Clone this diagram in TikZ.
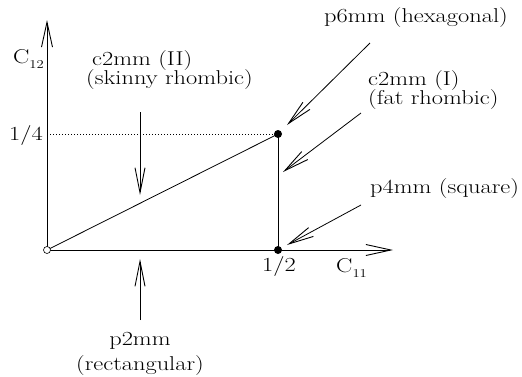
\documentclass[tikz,border=0pt]{standalone}
\usepackage{fontspec}
\setmainfont{Latin Modern Roman}[FakeStretch=1.22]
\usetikzlibrary{arrows.meta}
\newcommand{\subidx}[1]{\raisebox{-5pt}{\fontsize{12}{12}\selectfont #1}}
\newcommand{\lblfont}{\fontsize{20}{19.5}\selectfont\lineskiplimit=-30pt\relax\lineskip=0pt\relax}
\begin{document}
\begin{tikzpicture}[x=1pt,y=-1pt,
  lbl/.style={font=\lblfont, inner sep=0pt},
  axisline/.style={line width=0.9pt, -{Straight Barb[length=25pt,width=11pt,line width=0.9pt]}},
  pointer/.style={line width=0.8pt, -{Straight Barb[length=25pt,width=10pt,line width=0.9pt]}},
  plain/.style={line width=0.8pt},
  guide/.style={line width=0.7pt, dash pattern=on 1pt off 2pt},
  dot/.style={fill=black},
]
\useasboundingbox (0,0) rectangle (522,376);
% points
\coordinate (o) at (47,250);
\coordinate (a) at (278,134);
\coordinate (b) at (278,250);
\coordinate (q) at (47,134);
\coordinate (ytip) at (47,20);
\coordinate (xtip) at (393,250);
% axes and lines
\draw[axisline] (o) -- (ytip);
\draw[axisline] (o) -- (xtip);
\draw[guide] (q) -- (a);
\draw[plain] (o) -- (a);
\draw[plain] (a) -- (b);
\fill[dot] (a) circle[radius=4pt];
\fill[dot] (b) circle[radius=4pt];
\draw[line width=0.6pt, fill=white] (o) circle[radius=3.5pt];
% arrow end points
\coordinate (s2s) at (140,112); \coordinate (s2t) at (140,195);
\coordinate (r2s) at (140,320); \coordinate (r2t) at (140,259);
\coordinate (h6s) at (370,43);  \coordinate (h6t) at (287,125);
\coordinate (f1s) at (361,113); \coordinate (f1t) at (283,172);
\coordinate (q4s) at (361,205); \coordinate (q4t) at (287,245);
\draw[pointer] (s2s) -- (s2t);
\draw[pointer] (r2s) -- (r2t);
\draw[pointer] (h6s) -- (h6t);
\draw[pointer] (f1s) -- (f1t);
\draw[pointer] (q4s) -- (q4t);
% labels
\node[lbl, anchor=base west] (c12) at (13,63) {C\subidx{12}};
\node[lbl, anchor=base west] (c11) at (336,272) {C\subidx{11}};
\node[lbl, anchor=base] (quarter) at (26,140) {1/4};
\node[lbl, anchor=base] (half) at (279,271) {1/2};
\node[lbl, anchor=west, align=left] (skinny) at (86,70) {\hspace*{6pt}c2mm (II)\\(skinny rhombic)};
\node[lbl, anchor=base west] (hex) at (324,22) {p6mm (hexagonal)};
\node[lbl, anchor=west, align=left] (fat) at (368,90) {c2mm (I)\\(fat rhombic)};
\node[lbl, anchor=base west] (sq) at (370,193) {p4mm (square)};
\node[lbl, anchor=base] (recA) at (140,345) {p2mm};
\node[lbl, anchor=base] (recB) at (140,370) {(rectangular)};
\end{tikzpicture}
\end{document}
